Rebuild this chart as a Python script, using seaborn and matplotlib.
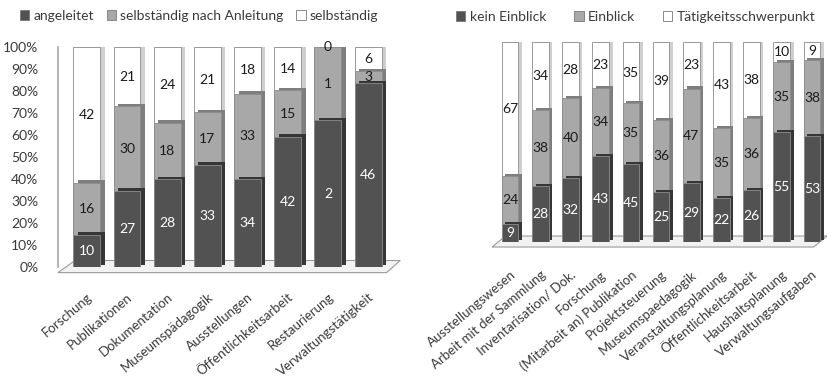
import numpy as np
import pandas as pd
import matplotlib
matplotlib.use("Agg")
import matplotlib.pyplot as plt
import seaborn as sns
from matplotlib import patheffects as pe
from matplotlib.patches import Patch, Polygon

# ---- left chart: how the work is done (counts) ----
left_categories = ["Forschung", "Publikationen", "Dokumentation", "Museumspädagogik",
                   "Ausstellungen", "Öffentlichkeitsarbeit", "Restaurierung",
                   "Verwaltungstätigkeit"]
angeleitet = [10, 27, 28, 33, 34, 42, 2, 46]
nach_anleitung = [16, 30, 18, 17, 33, 15, 1, 3]
selbstaendig = [42, 21, 24, 21, 18, 14, 0, 6]
left_series = ["angeleitet", "selbständig nach Anleitung", "selbständig"]

# ---- right chart: degree of involvement (percent) ----
right_categories = ["Ausstellungswesen", "Arbeit mit der Sammlung", "Inventarisation/ Dok.",
                    "Forschung", "(Mitarbeit an) Publikation", "Projektsteuerung",
                    "Museumspaedagogik", "Veranstaltungsplanung", "Öffentlichkeitsarbeit",
                    "Haushaltsplanung", "Verwaltungsaufgaben"]
kein_einblick = [9, 28, 32, 43, 45, 25, 29, 22, 26, 55, 53]
einblick = [24, 38, 40, 34, 35, 36, 47, 35, 36, 35, 38]
schwerpunkt = [67, 34, 28, 23, 35, 39, 23, 43, 38, 10, 9]
right_series = ["kein Einblick", "Einblick", "Tätigkeitsschwerpunkt"]

y_ticks = [0, 10, 20, 30, 40, 50, 60, 70, 80, 90, 100]

face_colors = ["#525252", "#a8a8a8", "#ffffff"]
side_colors = ["#363636", "#7e7e7e", "#cfcfcf"]
label_colors = ["white", "#1a1a1a", "#1a1a1a"]
edge_color = "#8c8c8c"
text_color = "#3a3a3a"

sns.set_theme(style="white")
plt.rcParams["font.family"] = ["Lato", "DejaVu Sans"]
plt.rcParams["text.color"] = text_color


def stacked_percent(ax, categories, series, width, depth, label_size):
    counts = np.array(series, dtype=float)
    pct = counts / counts.sum(axis=0) * 100
    cum = pct.cumsum(axis=0)
    # draw tallest cumulative first so lower segments sit on top
    for i in reversed(range(len(series))):
        df = pd.DataFrame({"cat": categories, "val": cum[i]})
        before = len(ax.patches)
        sns.barplot(data=df, x="cat", y="val", order=categories, color=face_colors[i],
                    saturation=1, width=width, edgecolor=edge_color, linewidth=0.6,
                    ax=ax, zorder=3)
        for p in ax.patches[before:]:
            p.set_path_effects([
                pe.SimplePatchShadow(offset=depth, shadow_rgbFace=side_colors[i], alpha=1.0),
                pe.Normal(),
            ])
    for i in range(len(series)):
        for j in range(len(categories)):
            ax.text(j, cum[i][j] - pct[i][j] / 2, f"{int(counts[i][j])}",
                    ha="center", va="center", fontsize=label_size,
                    color=label_colors[i], zorder=5)


def floor(ax, shift):
    poly = Polygon([(0.0, -0.025), (0.96, -0.025), (1.0, 0.03), (shift, 0.03)],
                   closed=True, transform=ax.transAxes, facecolor="#f2f2f2",
                   edgecolor="#9a9a9a", linewidth=0.8, clip_on=False, zorder=1)
    ax.add_patch(poly)


def legend(ax, names, anchor, spacing):
    ax.legend(handles=[Patch(facecolor=face_colors[k], edgecolor="#777777", linewidth=0.6,
                             label=names[k]) for k in range(3)],
              loc="lower left", bbox_to_anchor=anchor, ncol=3, frameon=False,
              fontsize=10, handlelength=0.7, handleheight=0.7, handletextpad=0.3,
              columnspacing=spacing, borderaxespad=0)


fig = plt.figure(figsize=(8.27, 3.86), dpi=100)

# left panel
ax1 = fig.add_axes([0.070, 0.308, 0.414, 0.570])
stacked_percent(ax1, left_categories, [angeleitet, nach_anleitung, selbstaendig],
                width=0.67, depth=(3.2, 1.8), label_size=10)
floor(ax1, 0.05)
ax1.set_xlim(-0.72, 7.8)
ax1.set_ylim(0, 100)
ax1.set_yticks(y_ticks)
ax1.set_yticklabels([f"{t}%" for t in y_ticks], fontsize=10, color=text_color)
ax1.set_xlabel("")
ax1.set_ylabel("")
ax1.set_xticks(range(len(left_categories)))
ax1.set_xticklabels(left_categories, rotation=40, ha="right", rotation_mode="anchor",
                    fontsize=9.5, color=text_color)
ax1.tick_params(axis="both", length=0)
ax1.tick_params(axis="x", pad=17)
ax1.tick_params(axis="y", pad=14)
for s in ["top", "right", "bottom"]:
    ax1.spines[s].set_visible(False)
ax1.spines["left"].set_color("#a8a8a8")
ax1.spines["left"].set_linewidth(1.2)
legend(ax1, left_series, (-0.128, 1.09), 0.9)

# right panel
ax2 = fig.add_axes([0.595, 0.373, 0.405, 0.518])
stacked_percent(ax2, right_categories, [kein_einblick, einblick, schwerpunkt],
                width=0.55, depth=(2.6, 1.6), label_size=10)
floor(ax2, 0.04)
ax2.set_xlim(-0.6, 10.5)
ax2.set_ylim(0, 100)
ax2.set_yticks([])
ax2.set_xlabel("")
ax2.set_ylabel("")
ax2.set_xticks(range(len(right_categories)))
ax2.set_xticklabels(right_categories, rotation=40, ha="right", rotation_mode="anchor",
                    fontsize=9.5, color=text_color)
ax2.tick_params(axis="x", length=0, pad=19)
for s in ax2.spines.values():
    s.set_visible(False)
legend(ax2, right_series, (-0.125, 1.07), 2.0)

fig.savefig("out.png", dpi=100, facecolor="white")
